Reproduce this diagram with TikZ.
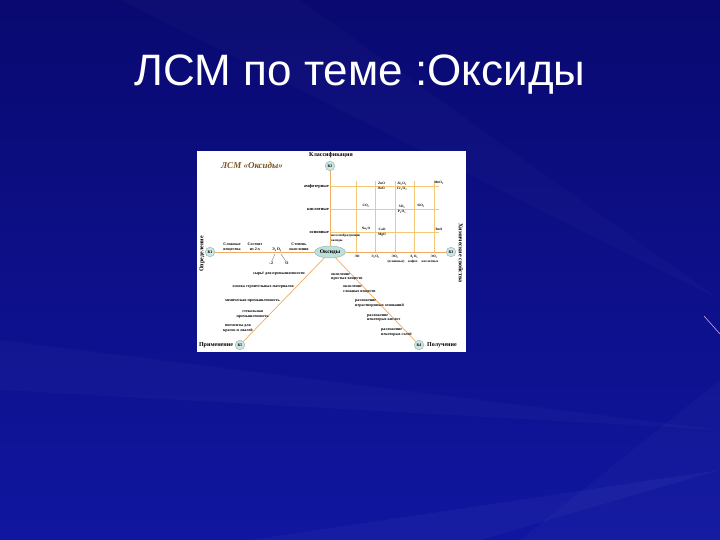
\documentclass[tikz,border=0pt]{standalone}
\usepackage{fontspec}
\setmainfont{Liberation Serif}
\newfontfamily\titlefont{Liberation Sans}
\usetikzlibrary{shapes.geometric}
\definecolor{bgtop}{RGB}{9,9,112}
\definecolor{bgmid}{RGB}{13,13,155}
\definecolor{bgbot}{RGB}{16,22,160}
\definecolor{lineor}{RGB}{240,172,96}
\definecolor{gridor}{RGB}{245,200,120}
\definecolor{kfill}{RGB}{208,230,228}
\definecolor{kdraw}{RGB}{150,185,182}
\definecolor{oksfill}{RGB}{190,224,218}
\definecolor{titlebrown}{RGB}{125,85,35}
\definecolor{streak}{RGB}{200,170,230}
\newcommand{\sbs}[1]{\textsubscript{#1}}
\begin{document}
\begin{tikzpicture}[x=1pt,y=-1pt,
  lsmline/.style={draw=lineor,line width=0.7pt},
  gridline/.style={draw=gridor,line width=0.6pt},
  kcirc/.style={circle,draw=kdraw,fill=kfill,line width=0.5pt,minimum size=9.5pt,inner sep=0pt,font=\bfseries\fontsize{4}{4}\selectfont},
  lbl/.style={font=\bfseries\fontsize{4}{4.9}\selectfont,inner sep=0pt,align=center},
  lbll/.style={lbl,align=left},
  rowlbl/.style={font=\bfseries\fontsize{4.4}{5}\selectfont,inner sep=0pt},
  axislbl/.style={font=\bfseries\fontsize{6}{6}\selectfont,inner sep=0pt},
  cell/.style={font=\bfseries\fontsize{3.4}{5.2}\selectfont,inner sep=0pt,align=center}]
\useasboundingbox (0,0) rectangle (720,540);
% background
\shade[top color=bgtop, middle color=bgmid, bottom color=bgbot] (0,0) rectangle (720,540);
\fill[white,opacity=0.02] (720,300) -- (120,0) -- (300,0) -- cycle;
\fill[white,opacity=0.025] (720,430) -- (0,340) -- (0,390) -- cycle;
\fill[white,opacity=0.03] (720,470) -- (250,540) -- (480,540) -- cycle;
\fill[white,opacity=0.025] (720,380) -- (520,540) -- (720,540) -- cycle;
\draw[streak,line width=0.6pt] (704,316) -- (720,334);
% title
\node[font=\titlefont\fontsize{44}{50}\selectfont,text=white,anchor=base,inner sep=0pt] (title) at (360,86) {ЛСМ по теме :Оксиды};
% panel
\node[fill=white,minimum width=269pt,minimum height=201pt,anchor=north west,inner sep=0pt] (panel) at (197,151) {};
\node[font=\bfseries\itshape\fontsize{9}{10}\selectfont,text=titlebrown,inner sep=0pt] (lsm) at (252,165) {ЛСМ «Оксиды»};
% grid
\foreach \y in {186,209,232} \draw[gridline] (330,\y) -- (439,\y);
\foreach \x in {356,375.5,395,414,434} \draw[gridline] (\x,181) -- (\x,252);
% central nodes
\node[ellipse,draw=kdraw,fill=oksfill,line width=0.5pt,minimum width=31pt,minimum height=12pt,inner sep=0pt,font=\bfseries\fontsize{5.6}{6}\selectfont] (oks) at (330,252) {Оксиды};
\node[kcirc] (k1) at (210,252) {К1};
\node[kcirc] (k2) at (330,166) {К2};
\node[kcirc] (k3) at (451,252) {К3};
\node[kcirc] (k4) at (419,345) {К4};
\node[kcirc] (k5) at (240,345) {К5};
\node[axislbl] (t2) at (331,155.5) {Классификация};
\node[axislbl,rotate=90] (t1) at (202,254) {Определение};
\node[axislbl,rotate=-90] (t3) at (461,253) {Химические свойства};
\node[axislbl] (t5) at (216,345) {Применение};
\node[axislbl] (t4) at (442,345) {Получение};
% connectors
\draw[lsmline] (k1) -- (oks);
\draw[lsmline] (oks) -- (k3);
\draw[lsmline] (k2) -- (oks);
\draw[lsmline] (oks) -- (k5);
\draw[lsmline] (oks) -- (k4);
% row labels
\node[rowlbl,anchor=east] (r1) at (329,186) {амфотерные};
\node[rowlbl,anchor=east] (r2) at (329,209) {кислотные};
\node[rowlbl,anchor=east] (r3) at (329,232) {основные};
% cells
\node[cell] (c11) at (381.5,186) {ZnO\\BeO};
\node[cell] (c12) at (402,186) {Al\sbs{2}O\sbs{3}\\Cr\sbs{2}O\sbs{3}};
\node[cell,anchor=south] (c13) at (439,185) {MnO\sbs{2}};
\node[cell,anchor=south] (c21) at (366,208) {CO\sbs{2}};
\node[cell] (c22) at (402,209) {SO\sbs{3}\\P\sbs{2}O\sbs{5}};
\node[cell,anchor=south] (c23) at (421,208) {SiO\sbs{2}};
\node[cell,anchor=south] (c31) at (366,231) {Na\sbs{2}O};
\node[cell] (c32) at (382,232) {CaO\\MgO};
\node[cell,anchor=south] (c33) at (439,231) {BaO};
\node[cell,align=left,anchor=north west] (nso) at (331,234) {несолеобразующие\\оксиды};
% bottom axis labels
\node[cell] (b1) at (357,256.5) {ЭО};
\node[cell] (b2) at (375.5,256.5) {Э\sbs{2}О\sbs{3}};
\node[cell] (b3) at (395,256.5) {ЭО\sbs{2}};
\node[cell] (b4) at (414,256.5) {Э\sbs{2}О\sbs{5}};
\node[cell] (b5) at (434,256.5) {ЭО\sbs{3}};
\node[cell] (b6) at (396,261.5) {(основные)};
\node[cell] (b7) at (413,261.5) {амфот.};
\node[cell] (b8) at (430,261.5) {кислотные};
% definition labels
\node[lbl] (d1) at (232,247) {Сложные\\вещества};
\node[lbl] (d2) at (255,247) {Состоят\\из 2-х};
\node[lbl] (d3) at (277,249.5) {Э\sbs{x}О\sbs{y}};
\node[lbl] (d4) at (299,247) {Степень\\окисления};
\node[lbl] (d5) at (271,263) {–2};
\node[lbl] (d6) at (287,263) {О};
\coordinate (d3a) at (275,254);
\coordinate (d3b) at (281,254);
\draw[draw=black!60,line width=0.3pt] (d3a) -- (d5);
\draw[draw=black!60,line width=0.3pt] (d3b) -- (d6);
% application labels
\node[lbl,anchor=east] (p1) at (305,274) {сырьё для промышленности};
\node[lbl,anchor=east] (p2) at (294,287) {основа строительных материалов};
\node[lbl,anchor=east] (p3) at (280,301) {химическая промышленность};
\node[lbl,anchor=east] (p4) at (269,314.5) {стекольная\\промышленность};
\node[lbl,anchor=east] (p5) at (253,328.5) {пигменты для\\красок и эмалей};
% preparation labels
\node[lbll,anchor=west] (g1) at (331,277) {окисление\\простых веществ};
\node[lbll,anchor=west] (g2) at (343,289) {окисление\\сложных веществ};
\node[lbll,anchor=west] (g3) at (355,303.5) {разложение\\нерастворимых оснований};
\node[lbll,anchor=west] (g4) at (367,318) {разложение\\некоторых кислот};
\node[lbll,anchor=west] (g5) at (381,332.5) {разложение\\некоторых солей};
\end{tikzpicture}
\end{document}
